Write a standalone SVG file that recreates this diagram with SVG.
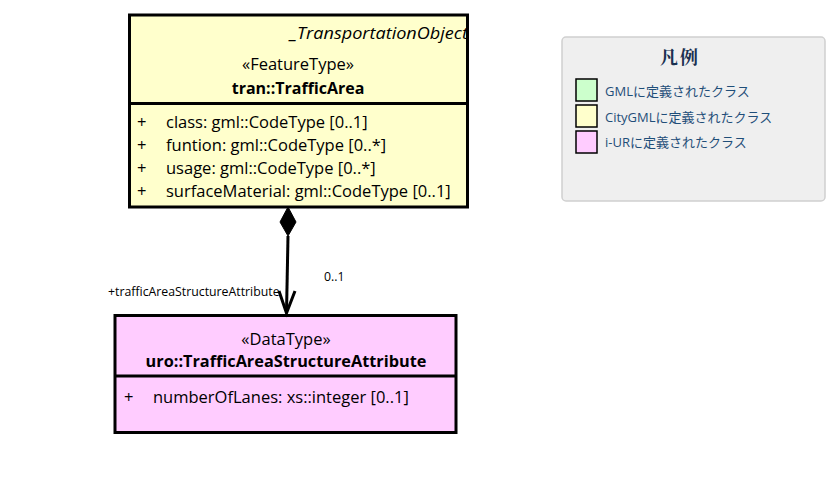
<svg xmlns="http://www.w3.org/2000/svg" width="840" height="481" viewBox="0 0 840 481">
<defs>
<clipPath id="clipTA"><rect x="129.5" y="15" width="337" height="88"/></clipPath>
</defs>
<style>
.box{stroke:#000;stroke-width:3}
.t{font-family:"Open Sans","Noto Sans","DejaVu Sans",sans-serif;font-size:16.5px;fill:#000}
.b{font-weight:bold;font-size:16px}
.c{text-anchor:middle}
.lbl{font-family:"Open Sans","DejaVu Sans",sans-serif;font-size:12.3px;fill:#000}
.lg{font-family:"Open Sans","Noto Sans CJK JP",sans-serif;font-size:13px;fill:#1f4e79}
.sw{stroke:#000;stroke-width:1.5}
</style>
<rect width="840" height="481" fill="#fff"/>
<g id="legend">
<rect x="562" y="37" width="263" height="164" rx="4" fill="#efefef" stroke="#d0d0d0" stroke-width="1.5"/>
<text x="680" y="64" text-anchor="middle" font-family="'Noto Serif CJK JP','Noto Sans CJK JP',serif" font-size="18" font-weight="bold" fill="#1a3050" letter-spacing="2">凡例</text>
<rect class="sw" x="576" y="79" width="21" height="22" fill="#ccffcc"/>
<rect class="sw" x="576" y="105" width="21" height="22" fill="#ffffcc"/>
<rect class="sw" x="576" y="131" width="21" height="22" fill="#ffccff"/>
<text class="lg" x="605" y="96">GMLに定義されたクラス</text>
<text class="lg" x="605" y="122">CityGMLに定義されたクラス</text>
<text class="lg" x="605" y="147">i-URに定義されたクラス</text>
</g>
<g id="TrafficArea">
<rect class="box" x="129.5" y="15" width="338" height="192" fill="#ffffcc"/>
<line class="box" x1="129.5" y1="103.5" x2="467.5" y2="103.5"/>
<text class="t" x="290" y="39" font-style="italic" font-size="17.5px" textLength="178" lengthAdjust="spacingAndGlyphs" clip-path="url(#clipTA)">_TransportationObject</text>
<text class="t c" x="298" y="70">«FeatureType»</text>
<text class="t c b" x="298" y="94">tran::TrafficArea</text>
<text class="t" x="137" y="128">+</text><text class="t" x="166" y="128">class: gml::CodeType [0..1]</text>
<text class="t" x="137" y="151">+</text><text class="t" x="166" y="151">funtion: gml::CodeType [0..*]</text>
<text class="t" x="137" y="174">+</text><text class="t" x="166" y="174">usage: gml::CodeType [0..*]</text>
<text class="t" x="137" y="197">+</text><text class="t" x="166" y="197">surfaceMaterial: gml::CodeType [0..1]</text>
</g>
<g id="TrafficAreaStructureAttribute">
<rect class="box" x="115" y="315.5" width="341" height="117" fill="#ffccff"/>
<line class="box" x1="115" y1="376" x2="456" y2="376"/>
<text class="t c" x="286" y="345">«DataType»</text>
<text class="t c b" x="286" y="367" style="font-size:16.3px">uro::TrafficAreaStructureAttribute</text>
<text class="t" x="124" y="403">+</text><text class="t" x="153" y="403">numberOfLanes: xs::integer [0..1]</text>
</g>
<g id="connectors">
<polygon points="288,207 296,222 288,236 280,222" fill="#000" stroke="#000" stroke-width="1"/>
<line x1="288" y1="236" x2="286.5" y2="313" stroke="#000" stroke-width="3"/>
<polyline points="279,291 286.5,313 295,291" fill="none" stroke="#000" stroke-width="3"/>
<text class="lbl" x="324" y="281">0..1</text>
<text class="lbl" x="108" y="296">+trafficAreaStructureAttribute</text>
</g>
</svg>
